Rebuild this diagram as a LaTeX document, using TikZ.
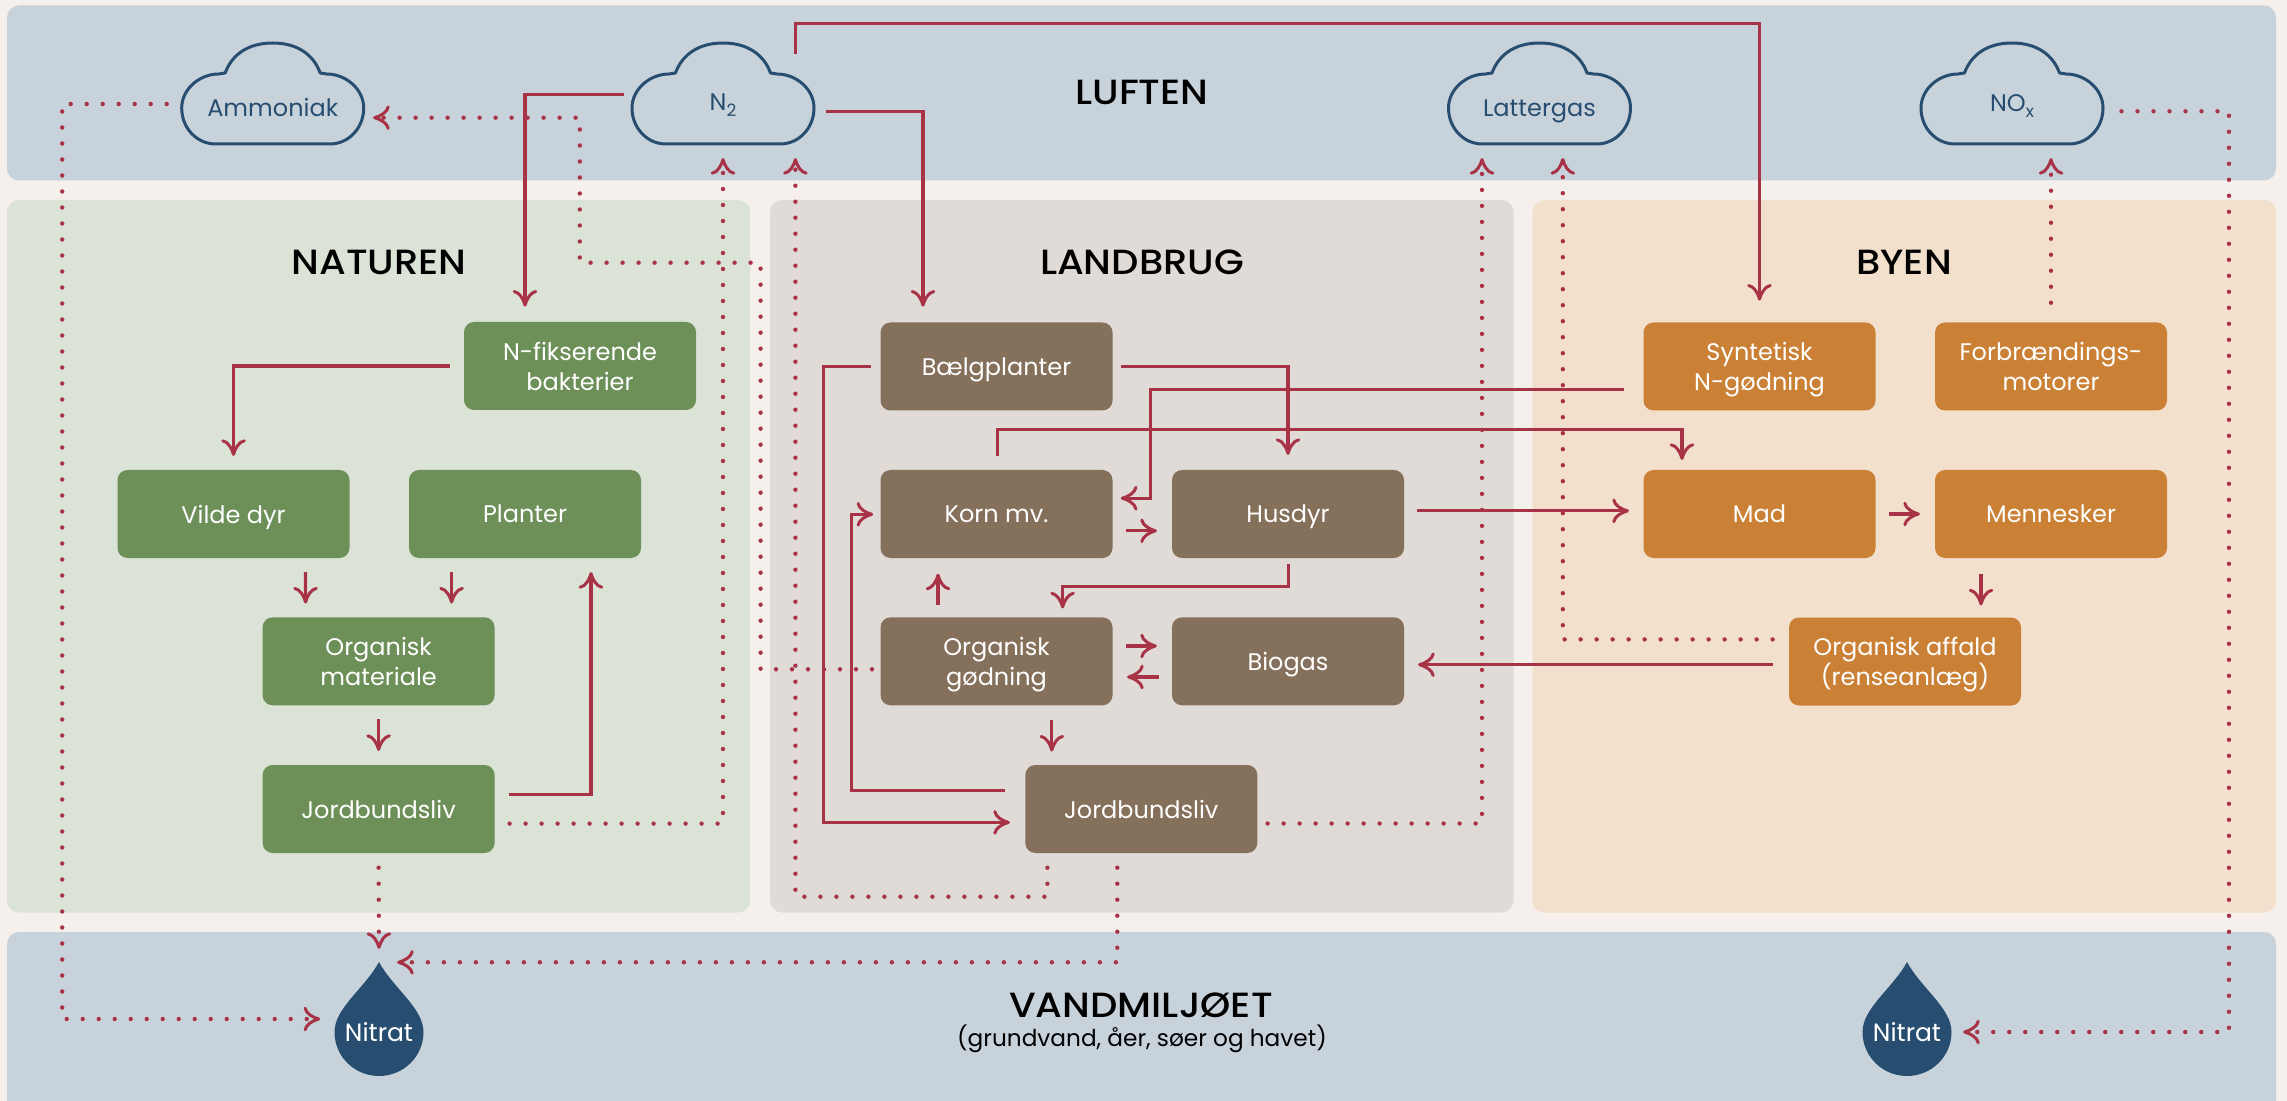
\documentclass[tikz,border=0pt]{standalone}
\usepackage{fontspec}
\setmainfont{Poppins}
\newfontfamily\titlefont[FakeStretch=1.1]{Poppins Medium}
\usetikzlibrary{calc,arrows.meta}
\definecolor{pagebg}{HTML}{F5F0EB}
\definecolor{blueP}{HTML}{C8D2DB}
\definecolor{greenP}{HTML}{DBE3D7}
\definecolor{brownP}{HTML}{E0DBD7}
\definecolor{orangeP}{HTML}{F3E0CC}
\definecolor{greenB}{HTML}{6D8F58}
\definecolor{brownB}{HTML}{85705B}
\definecolor{orangeB}{HTML}{CB8135}
\definecolor{rust}{HTML}{A83246}
\definecolor{navy}{HTML}{274E70}
\pgfdeclarearrow{
  name=NBarb,
  setup code={
    \pgfarrowssettipend{0.8pt}
    \pgfarrowssetbackend{-7pt}
    \pgfarrowssetlineend{-0.5pt}
    \pgfarrowssetvisualbackend{-2pt}
  },
  drawing code={
    \pgfsetlinewidth{1.5pt}\pgfsetroundcap\pgfsetroundjoin\pgfsetdash{}{0pt}
    \pgfpathmoveto{\pgfqpoint{-6.8pt}{5.4pt}}
    \pgfpathcurveto{\pgfqpoint{-6.4pt}{2.8pt}}{\pgfqpoint{-3pt}{0.8pt}}{\pgfqpoint{0pt}{0pt}}
    \pgfpathcurveto{\pgfqpoint{-3pt}{-0.8pt}}{\pgfqpoint{-6.4pt}{-2.8pt}}{\pgfqpoint{-6.8pt}{-5.4pt}}
    \pgfusepathqstroke
  },
  parameters={},
  defaults={}
}
\newcommand{\gascloud}[1]{%
  \draw[gasline,shift={(#1,0)}] (-57,144) .. controls (-76,144) and (-91,128) .. (-91,108)
    .. controls (-91,89) and (-73,74) .. (-54,74) -- (-47.5,73)
    .. controls (-41,55) and (-25,43) .. (0,43) .. controls (25,43) and (41,55) .. (47.5,73)
    -- (54,74) .. controls (73,74) and (91,89) .. (91,108)
    .. controls (91,128) and (76,144) .. (57,144) -- cycle;}
\newcommand{\waterdrop}[1]{%
  \fill[navy,shift={(#1,1032)}] (0,-70) .. controls (14,-44) and (44.5,-24) .. (44.5,0)
    .. controls (44.5,24.5) and (24.5,44) .. (0,44) .. controls (-24.5,44) and (-44.5,24.5) .. (-44.5,0)
    .. controls (-44.5,-24) and (-14,-44) .. (0,-70) -- cycle;}
\newcommand{\subs}[1]{\raisebox{-0.45ex}{\fontsize{8.5pt}{9pt}\selectfont #1}}
\tikzset{
  box/.style={minimum width=116pt,minimum height=44pt,inner sep=0pt,rounded corners=5pt,
    text=white,align=center,text depth=0pt,font=\fontsize{12pt}{15pt}\selectfont},
  gbox/.style={box,fill=greenB},
  bbox/.style={box,fill=brownB},
  obox/.style={box,fill=orangeB},
  title/.style={inner sep=0pt,text=black,font=\titlefont\fontsize{17.5pt}{20pt}\selectfont},
  gastext/.style={anchor=base,inner sep=0pt,text=navy,font=\fontsize{12pt}{12pt}\selectfont},
  droptext/.style={inner sep=0pt,text=white,font=\fontsize{12.5pt}{13pt}\selectfont},
  gasline/.style={draw=navy,line width=1.5pt,line join=round},
  flow/.style={draw=rust,line width=1.6pt,-{NBarb[]}},
  dots/.style={draw=rust,line width=2.2pt,line cap=round,dash pattern=on 0pt off 8pt,-{NBarb[]}}
}
\begin{document}
\begin{tikzpicture}[x=0.5pt,y=-0.5pt]
\useasboundingbox (0,0) rectangle (2287,1101);
\fill[pagebg] (0,0) rectangle (2287,1101);
% panels
\fill[blueP,rounded corners=6pt] (7,5.5) rectangle (2276,180.5);
\fill[greenP,rounded corners=6pt] (7,200) rectangle (750,912.5);
\fill[brownP,rounded corners=6pt] (770,200) rectangle (1513.5,912.5);
\fill[orangeP,rounded corners=6pt] (1532.5,200) rectangle (2276,912.5);
\begin{scope}
\clip (0,0) rectangle (2287,1101);
\fill[blueP,rounded corners=6pt] (7,932) rectangle (2276,1130);
\end{scope}
% titles
\node[title] (tluft) at (1142,92) {LUFTEN};
\node[title] (tnat) at (379,262) {NATUREN};
\node[title] (tland) at (1142,262) {LANDBRUG};
\node[title] (tbyen) at (1904,262) {BYEN};
\node[title] (tvand) at (1141,1005) {VANDMILJØET};
\node[inner sep=0pt,text=black,font=\fontsize{11.6pt}{13pt}\selectfont] (tsub) at (1142,1039) {(grundvand, åer, søer og havet)};
% clouds
\gascloud{272.7}\gascloud{723}\gascloud{1539.5}\gascloud{2012}
\node[gastext] (ammon) at (272.7,117) {Ammoniak};
\node[gastext] (ntwo) at (723,111) {N\subs{2}};
\node[gastext] (latter) at (1539.5,117) {Lattergas};
\node[gastext] (nox) at (2012,112) {NO\subs{x}};
% drops
\waterdrop{379}\waterdrop{1907}
\node[droptext] (nita) at (379,1032) {Nitrat};
\node[droptext] (nitb) at (1907,1032) {Nitrat};
% boxes
\node[gbox] (nfix) at (580,366) {N-fikserende\\bakterier};
\node[gbox] (vilde) at (233.5,514) {Vilde dyr};
\node[gbox] (planter) at (525,514) {Planter};
\node[gbox] (orgm) at (378.6,661.3) {Organisk\\materiale};
\node[gbox] (jordn) at (378.6,809) {Jordbundsliv};
\node[bbox] (baelg) at (996.5,366.5) {Bælgplanter};
\node[bbox] (korn) at (996.5,514) {Korn mv.};
\node[bbox] (husdyr) at (1288,514) {Husdyr};
\node[bbox] (orgg) at (996.5,661.3) {Organisk\\gødning};
\node[bbox] (biogas) at (1288,661.3) {Biogas};
\node[bbox] (jordl) at (1141.3,809) {Jordbundsliv};
\node[obox] (synt) at (1759.5,366.5) {Syntetisk\\N-gødning};
\node[obox] (forb) at (2051,366.5) {Forbrændings-\\motorer};
\node[obox] (mad) at (1759.5,514) {Mad};
\node[obox] (menn) at (2051,514) {Mennesker};
\node[obox] (affald) at (1905,661.5) {Organisk affald\\(renseanlæg)};
% dotted connectors
\draw[dots] ($(jordn)+(131,14.6)$) -| ($(ntwo.base)+(0,47)$);
\draw[dots] ($(jordn)+(0,58.7)$) -- ($(nita)+(0,-83)$);
\draw[dots] ($(ammon.base)+(-106,-13)$) -- ++(-104.5,0) |- ($(nita)+(-58.7,-13)$);
\draw[dots] ($(jordl)+(-24,58.7)$) |- ($(nita)+(18,-69.7)$);
\draw[dots] ($(orgg)+(-124.5,8)$) -- ++(-111.4,0) -- ++(0,-406.6) -- ++(-180.8,0) |- ($(ammon.base)+(100.3,0.7)$);
\draw[dots] ($(jordl)+(-93.9,58.7)$) -- ++(0,29) -- ++(-252,0) -- ($(ntwo.base)+(72.4,47)$);
\draw[dots] ($(jordl)+(126.3,14.5)$) -| ($(latter.base)+(-57.5,41)$);
\draw[dots] ($(affald)+(-132.4,-22.1)$) -| ($(latter.base)+(23.3,41)$);
\draw[dots] ($(forb)+(0,-63.8)$) -- ($(nox.base)+(39,46)$);
\draw[dots] ($(nox.base)+(109.5,-0.7)$) -- ++(107.5,0) |- ($(nitb)+(56,0)$);
% solid connectors
\draw[flow] ($(ntwo.base)+(-99,-16.7)$) -| ($(nfix)+(-55,-59.3)$);
\draw[flow] ($(ntwo.base)+(72.6,-56.7)$) -- ++(0,-31) -| ($(synt)+(0,-65.8)$);
\draw[flow] ($(ntwo.base)+(102.5,0.3)$) -| ($(baelg)+(-73.5,-59.8)$);
\draw[flow] ($(nfix)+(-130.5,0)$) -| ($(vilde)+(0,-58)$);
\draw[flow] ($(vilde)+(72,58)$) -- ($(orgm)+(-73,-57.7)$);
\draw[flow] ($(planter)+(-73.4,58)$) -- ($(orgm)+(73,-57.7)$);
\draw[flow] ($(orgm)+(0,58)$) -- ($(jordn)+(0,-58)$);
\draw[flow] ($(jordn)+(130,-14.7)$) -| ($(planter)+(66,58)$);
\draw[flow] ($(synt)+(-135.5,22.8)$) -- ++(-473.2,0) |- ($(korn)+(124.2,-15.8)$);
\draw[flow] ($(korn)+(0.7,-58)$) -- ++(0,-26.3) -| ($(mad)+(-77.5,-54)$);
\draw[flow] ($(korn)+(129.3,16.8)$) -- ($(husdyr)+(-131,16.8)$);
\draw[flow] ($(baelg)+(124.5,0)$) -| ($(husdyr)+(0,-59)$);
\draw[flow] ($(baelg)+(-125.8,0)$) -- ++(-46.9,0) |- ($(jordl)+(-131.3,13.4)$);
\draw[flow] ($(jordl)+(-136.3,-18.4)$) -- ++(-153.7,0) |- ($(korn)+(-123.2,0.3)$);
\draw[flow] ($(husdyr)+(0.6,49.7)$) -- ++(0,22.9) -| ($(orgg)+(66.1,-52.8)$);
\draw[flow] ($(orgg)+(-58.5,-56.3)$) -- ($(korn)+(-58.5,59.6)$);
\draw[flow] ($(orgg)+(129.3,-15.3)$) -- ($(biogas)+(-131,-15.3)$);
\draw[flow] ($(biogas)+(-129,15.7)$) -- ($(orgg)+(130.5,15.7)$);
\draw[flow] ($(orgg)+(55.3,58.7)$) -- ($(jordl)+(-89.5,-57.4)$);
\draw[flow] ($(husdyr)+(129,-3.1)$) -- ($(mad)+(-130.5,-3.1)$);
\draw[flow] ($(affald)+(-132.4,3.2)$) -- ($(biogas)+(130,3.4)$);
\draw[flow] ($(mad)+(129,0)$) -- ($(menn)+(-131,0)$);
\draw[flow] ($(menn)+(-70,60)$) -- ($(affald)+(76,-56)$);
\end{tikzpicture}
\end{document}
